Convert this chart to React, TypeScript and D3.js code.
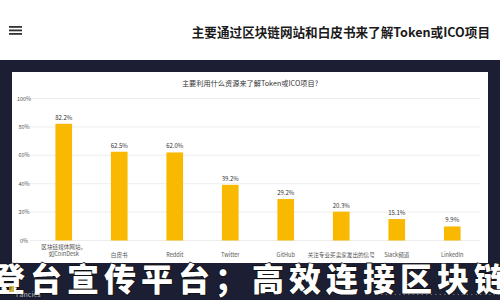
import React from "react";
import * as d3 from "d3";

const pageTitle = "主要通过区块链网站和白皮书来了解Token或ICO项目";
const chartTitle = "主要利用什么资源来了解Token或ICO项目?";
const categories = [
  "区块链媒体网站，\n如CoinDesk",
  "白皮书",
  "Reddit",
  "Twitter",
  "GitHub",
  "关注专业买卖家发出的信号",
  "Slack频道",
  "LinkedIn",
];
const values = [82.2, 62.5, 62.0, 39.2, 29.2, 20.3, 15.1, 9.9];
const yTicks = [0, 20, 40, 60, 80, 100];
const overlayText = "登台宣传平台；高效连接区块链";

const W = 500;
const H = 300;
const SANS = "'Noto Sans CJK SC', 'Noto Sans', sans-serif";

export default function App() {
  const x = d3
    .scaleBand<string>()
    .domain(categories)
    .range([36, 480])
    .paddingInner(0.7)
    .paddingOuter(0.35);
  const y = d3.scaleLinear().domain([0, 100]).range([240.5, 98.5]);

  return (
    <svg
      width={W}
      height={H}
      style={{ position: "absolute", left: 0, top: 0 }}
      fontFamily={SANS}
    >
      <rect x={0} y={0} width={W} height={H} fill="#ffffff" />
      {/* header */}
      {[27, 30.5, 34].map((yy) => (
        <rect key={yy} x={9} y={yy - 1} width={13} height={1.8} fill="#333" />
      ))}
      <text
        x={490}
        y={37}
        textAnchor="end"
        fontSize={12.6}
        fontWeight={700}
        fill="#1a1a1a"
      >
        {pageTitle}
      </text>
      {/* dark background */}
      <rect x={0} y={60} width={W} height={H - 60} fill="#1c1f33" />
      {/* white chart panel */}
      <rect x={12} y={72} width={476} height={191} fill="#ffffff" />
      <text x={250} y={86} textAnchor="middle" fontSize={7.2} fill="#333">
        {chartTitle}
      </text>
      {/* grid & y axis */}
      {yTicks.map((t) => (
        <g key={t}>
          <line
            x1={30}
            x2={480}
            y1={y(t)}
            y2={y(t)}
            stroke="#e8e8e8"
            strokeWidth={0.8}
          />
          <text
            x={24}
            y={y(t) + 2}
            textAnchor="middle"
            fontSize={5.5}
            fill="#555"
          >
            {t}%
          </text>
        </g>
      ))}
      {/* bars */}
      {categories.map((c, i) => (
        <g key={c}>
          <rect
            x={x(c)}
            y={y(values[i])}
            width={x.bandwidth()}
            height={y(0) - y(values[i])}
            fill="#f9b900"
          />
          <text
            x={(x(c) as number) + x.bandwidth() / 2}
            y={y(values[i]) - 4}
            textAnchor="middle"
            fontSize={6}
            fill="#333"
          >
            {values[i].toFixed(1)}%
          </text>
          {c.split("\n").map((line, k, arr) => (
            <text
              key={k}
              x={(x(c) as number) + x.bandwidth() / 2}
              y={(arr.length > 1 ? 249 : 257) + k * 7}
              textAnchor="middle"
              fontSize={5.6}
              fill="#555"
            >
              {line}
            </text>
          ))}
        </g>
      ))}
      {/* overlay banner text */}
      <text
        x={-7}
        y={291}
        fontSize={32}
        fontWeight={900}
        letterSpacing={5}
        fill="#ffffff"
        stroke="#111"
        strokeWidth={1.6}
        paintOrder="stroke"
      >
        {overlayText}
      </text>
      <rect x={9} y={286} width={5} height={6} fill="#c9a227" opacity={0.8} />
      <text x={16} y={297} fontSize={7} fill="#ddd" opacity={0.8}>
        Fancies
      </text>
      <text x={375} y={296} fontSize={4.5} fill="#ccc" opacity={0.8}>
        ·····························
      </text>
    </svg>
  );
}
